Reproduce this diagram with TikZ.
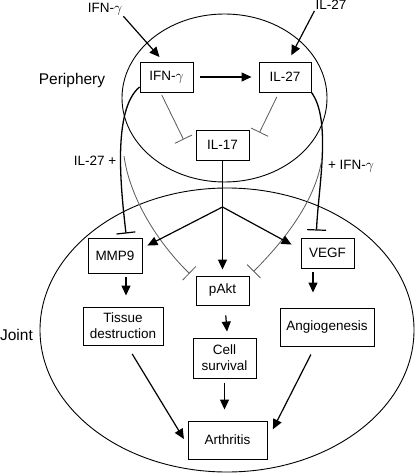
\documentclass[tikz,border=0pt]{standalone}
\usepackage{fontspec}
\setmainfont{Liberation Sans}
\usetikzlibrary{arrows.meta}

\begin{document}
\begin{tikzpicture}[x=1pt, y=-1pt,
	box/.style={draw, line width=0.9pt, inner sep=0pt, align=center, font=\fontsize{13.5}{16}\selectfont},
	lab/.style={inner sep=1pt, font=\fontsize{13.5}{16}\selectfont},
	big/.style={inner sep=1pt, font=\fontsize{15.5}{18}\selectfont},
	arr/.style={line width=1.2pt, -{Triangle[length=10pt, width=9pt]}},
	blk/.style={line width=1.3pt, -{Bar[width=19pt, line width=1.2pt]}},
	inh/.style={draw=black!65, line width=0.8pt, -{Bar[width=19pt, line width=0.8pt]}}]
	\useasboundingbox (0,0) rectangle (416,473);
	\draw[line width=0.9pt] (224.5,98) ellipse [x radius=102.5, y radius=84];
	\draw[line width=0.9pt] (227,330) ellipse [x radius=187, y radius=142];

	\node[box, minimum width=53pt, minimum height=30pt] (ifnp) at (166.5,77) {IFN-$\gamma$};
	\node[box, minimum width=52pt, minimum height=30pt] (il27p) at (285,77) {IL-27};
	\node[box, minimum width=53pt, minimum height=30pt] (il17) at (222.5,145) {IL-17};
	\node[box, minimum width=54pt, minimum height=35pt] (mmp9) at (115,255.5) {MMP9};
	\node[box, minimum width=53pt, minimum height=30pt] (vegf) at (327.5,253) {VEGF};
	\node[box, minimum width=53pt, minimum height=29pt] (pakt) at (222.5,290.5) {pAkt};
	\node[box, minimum width=80pt, minimum height=38pt] (tissue) at (123,326) {Tissue\\destruction};
	\node[box, minimum width=63pt, minimum height=40pt] (cell) at (224.5,358) {Cell\\survival};
	\node[box, minimum width=94pt, minimum height=38pt] (angio) at (327,327) {Angiogenesis};
	\node[box, minimum width=79pt, minimum height=38pt] (arth) at (227.5,440) {Arthritis};

	\node[lab] (lifn) at (105,9) {IFN-$\gamma$};
	\node[lab] (lil27) at (331,5) {IL-27};
	\node[big] (peri) at (72,80) {Periphery};
	\node[lab] (l27plus) at (95,161) {IL-27 +};
	\node[lab] (lifnplus) at (351,166) {+ IFN-$\gamma$};
	\node[big] (joint) at (16.5,335) {Joint};

	\coordinate (br) at (222.5,207);
	\coordinate (b0) at (124,156);
	\coordinate (d0) at (322,158);

	\draw[arr, shorten >=6pt] (lifn.south east) -- ([xshift=-3pt]ifnp.north);
	\draw[arr, shorten >=7pt] (lil27.south west) -- ([xshift=3pt]il27p.north);
	\draw[arr, shorten <=7pt, shorten >=7pt] (ifnp) -- (il27p);
	\draw[inh, shorten <=3pt] ([xshift=-6pt]ifnp.south) -- ([xshift=-12pt, yshift=-10pt]il17.north west);
	\draw[inh, shorten <=5pt] ([xshift=-6pt]il27p.south) -- ([xshift=10pt, yshift=-3pt]il17.north east);

	\draw[blk] ([yshift=-10pt]ifnp.west) .. controls (112,110) and (121,190) .. ([xshift=11pt, yshift=4pt]mmp9.north);
	\draw[blk] (il27p.south east) .. controls (332,120) and (318,190) .. ([xshift=-11pt, yshift=7pt]vegf.north);
	\draw[inh] (b0) .. controls (130,200) and (160,245) .. ([xshift=-6pt, yshift=2pt]pakt.north west);
	\draw[inh] (d0) .. controls (316,200) and (285,240) .. ([xshift=4pt, yshift=4pt]pakt.north east);

	\draw[line width=1.2pt] (il17) -- (br);
	\draw[arr] (br) -- ([xshift=5pt, yshift=-8pt]mmp9.north east);
	\draw[arr] (br) -- ([xshift=-9pt, yshift=-7pt]vegf.north west);
	\draw[arr, shorten >=6pt] (br) -- (pakt);

	\draw[arr, shorten <=4pt, shorten >=11pt] ([xshift=11pt]mmp9.south) -- ([xshift=3pt]tissue.north);
	\draw[arr, shorten <=10pt, shorten >=6pt] ([xshift=2.5pt]pakt.south) -- ([xshift=3pt]cell.north);
	\draw[arr, shorten <=4pt, shorten >=15pt] ([xshift=-14.5pt]vegf.south) -- ([xshift=-14pt]angio.north);
	\draw[arr, shorten <=10pt, shorten >=7pt] ([xshift=4pt]tissue.south) -- ([yshift=-5pt]arth.west);
	\draw[arr, shorten <=5pt, shorten >=11pt] (cell.south) -- (cell.south |- arth.north);
	\draw[arr, shorten <=9pt, shorten >=12pt] ([xshift=-12pt]angio.south) -- (arth.east);
\end{tikzpicture}
\end{document}
